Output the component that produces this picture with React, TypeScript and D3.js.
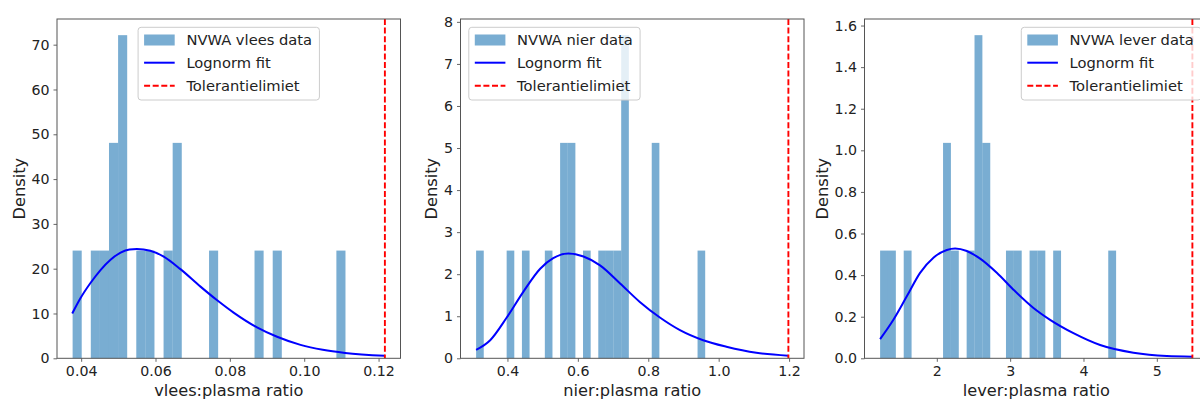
import { useEffect, useRef } from "react";
import * as d3 from "d3";

// histogram counts, 30 equal bins between the data min and max
const vleesCounts = [1, 0, 1, 1, 2, 3, 0, 1, 1, 0, 1, 2, 0, 0, 0, 1, 0, 0, 0, 0, 1, 0, 1, 0, 0, 0, 0, 0, 0, 1];
const nierCounts = [1, 0, 0, 0, 1, 0, 1, 0, 0, 1, 0, 2, 2, 0, 1, 0, 1, 1, 1, 3, 0, 0, 0, 2, 0, 0, 0, 0, 0, 1];
const leverCounts = [1, 1, 0, 1, 0, 0, 0, 0, 2, 1, 0, 1, 3, 2, 0, 0, 1, 1, 0, 1, 1, 0, 1, 0, 0, 0, 0, 0, 0, 1];

const vleesRange: [number, number] = [0.0377, 0.1111];
const nierRange: [number, number] = [0.311, 0.9617];
const leverRange: [number, number] = [1.227, 4.445];

const vleesTolerance = 0.1217;
const nierTolerance = 1.198;
const leverTolerance = 5.485;

// lognorm fit
const vleesFit: [number, number][] = [
  [0.0376, 10.0], [0.0398, 13.4], [0.0425, 16.8], [0.0452, 19.7], [0.0479, 22.0],
  [0.0506, 23.6], [0.053, 24.3], [0.055, 24.4], [0.0586, 24.0], [0.0622, 22.7],
  [0.0667, 19.9], [0.0721, 16.0], [0.0765, 13.0], [0.081, 10.2], [0.0873, 6.9],
  [0.0927, 4.8], [0.099, 3.0], [0.105, 1.9], [0.111, 1.2], [0.1217, 0.55],
];
const nierFit: [number, number][] = [
  [0.311, 0.2], [0.351, 0.43], [0.398, 0.97], [0.445, 1.58], [0.493, 2.13],
  [0.53, 2.38], [0.573, 2.49], [0.616, 2.42], [0.663, 2.21], [0.72, 1.78],
  [0.776, 1.34], [0.833, 0.97], [0.89, 0.67], [0.956, 0.43], [1.022, 0.275],
  [1.107, 0.13], [1.198, 0.062],
];
const leverFit: [number, number][] = [
  [1.227, 0.092], [1.408, 0.185], [1.591, 0.298], [1.772, 0.411], [1.954, 0.484],
  [2.136, 0.521], [2.25, 0.528], [2.409, 0.516], [2.591, 0.479], [2.818, 0.411],
  [3.045, 0.33], [3.318, 0.242], [3.545, 0.185], [3.863, 0.121], [4.227, 0.064],
  [4.681, 0.027], [5.136, 0.011], [5.485, 0.008],
];

const vleesXTicks = [0.04, 0.06, 0.08, 0.1, 0.12];
const nierXTicks = [0.4, 0.6, 0.8, 1.0, 1.2];
const leverXTicks = [2, 3, 4, 5];
const vleesYTicks = [0, 10, 20, 30, 40, 50, 60, 70];
const nierYTicks = [0, 1, 2, 3, 4, 5, 6, 7, 8];
const leverYTicks = [0, 0.2, 0.4, 0.6, 0.8, 1.0, 1.2, 1.4, 1.6];

const FONT = '"DejaVu Sans", Verdana, sans-serif';
const TOP = 19;
const BOTTOM = 358.3;
const W = 343.5;
const TICK_FS = 14.2;
const LABEL_FS = 16.2;
const LEGEND_FS = 14.7;
const INK = "#222";
const FRAME = "#555";
const DASH = "6,2.6";

const canvas = typeof document !== "undefined" ? document.createElement("canvas") : null;
function textWidth(s: string, size: number) {
  const ctx = canvas?.getContext("2d");
  if (!ctx) return s.length * size * 0.6;
  ctx.font = `${size}px ${FONT}`;
  return ctx.measureText(s).width;
}

interface PanelProps {
  left: number;
  counts: number[];
  range: [number, number];
  tolerance: number;
  fit: [number, number][];
  xTicks: number[];
  yTicks: number[];
  xFormat: string;
  yFormat: string;
  xLabel: string;
  dataLabel: string;
  legendPos: "center" | "left" | "right";
}

function Panel({ left, counts, range, tolerance, fit, xTicks, yTicks, xFormat, yFormat, xLabel, dataLabel, legendPos }: PanelProps) {
  const gx = useRef<SVGGElement>(null);
  const gy = useRef<SVGGElement>(null);

  const [lo, hi] = range;
  const pad = 0.05 * (tolerance - lo);
  const x = d3.scaleLinear([lo - pad, tolerance + pad], [left, left + W]);
  const n = d3.sum(counts);
  const bw = (hi - lo) / counts.length;
  const dens = counts.map((c) => c / (n * bw));
  const y = d3.scaleLinear([0, (d3.max(dens) ?? 1) * 1.05], [BOTTOM, TOP]);

  useEffect(() => {
    const g = d3.select(gx.current!);
    g.call(d3.axisBottom(x).tickValues(xTicks).tickFormat(d3.format(xFormat) as any).tickSize(3.5).tickPadding(4.5).tickSizeOuter(0) as any);
    g.select(".domain").remove();
    g.selectAll("line").attr("stroke", FRAME).attr("stroke-width", 0.9);
    g.selectAll("text").attr("font-size", TICK_FS).attr("font-family", FONT).attr("fill", INK);
  }, [gx, x]);

  useEffect(() => {
    const g = d3.select(gy.current!);
    g.call(d3.axisLeft(y).tickValues(yTicks).tickFormat(d3.format(yFormat) as any).tickSize(3.5).tickPadding(4).tickSizeOuter(0) as any);
    g.select(".domain").remove();
    g.selectAll("line").attr("stroke", FRAME).attr("stroke-width", 0.9);
    g.selectAll("text").attr("font-size", TICK_FS).attr("font-family", FONT).attr("fill", INK);
  }, [gy, y]);

  const line = d3
    .line<[number, number]>()
    .x((d) => x(d[0]))
    .y((d) => y(d[1]))
    .curve(d3.curveMonotoneX);

  const maxTickW = d3.max(yTicks.map((t) => textWidth(d3.format(yFormat)(t), TICK_FS))) ?? 0;
  const yLabelX = left - 7.5 - maxTickW - 12.5;

  const legendText = [dataLabel, "Lognorm fit", "Tolerantielimiet"];
  const legW = 48.3 + (d3.max(legendText.map((s) => textWidth(s, LEGEND_FS))) ?? 0) + 7.3;
  const legX = legendPos === "center" ? left + W / 2 - legW / 2 : legendPos === "left" ? left + 8.3 : left + W - 7 - legW;
  const legY = TOP + 8.3;
  const rows = [legY + 12.7, legY + 35.4, legY + 58.4];

  return (
    <g>
      {counts.map((c, i) =>
        c > 0 ? (
          <rect
            key={i}
            x={x(lo + i * bw)}
            width={x(lo + (i + 1) * bw) - x(lo + i * bw)}
            y={y(dens[i])}
            height={BOTTOM - y(dens[i])}
            fill="#1f77b4"
            fillOpacity={0.6}
          />
        ) : null
      )}
      <path d={line(fit) ?? ""} fill="none" stroke="#0000ff" strokeWidth={2} />
      <line x1={x(tolerance)} x2={x(tolerance)} y1={TOP} y2={BOTTOM} stroke="#ff0000" strokeWidth={1.9} strokeDasharray={DASH} />
      <rect x={left} y={TOP} width={W} height={BOTTOM - TOP} fill="none" stroke={FRAME} strokeWidth={1} />
      <g ref={gx} transform={`translate(0,${BOTTOM})`} />
      <g ref={gy} transform={`translate(${left},0)`} />
      <text x={left + W / 2} y={395.5} textAnchor="middle" fontSize={LABEL_FS} fontFamily={FONT} fill={INK}>
        {xLabel}
      </text>
      <text
        transform={`translate(${yLabelX},${(TOP + BOTTOM) / 2}) rotate(-90)`}
        textAnchor="middle"
        dy="0.35em"
        fontSize={LABEL_FS}
        fontFamily={FONT}
        fill={INK}
      >
        Density
      </text>
      <g>
        <rect x={legX} y={legY} width={legW} height={72.7} rx={3} fill="#fff" fillOpacity={0.8} stroke="#cccccc" strokeWidth={1} />
        <rect x={legX + 6} y={rows[0] - 5.5} width={30.6} height={11} fill="#1f77b4" fillOpacity={0.6} />
        <line x1={legX + 6} x2={legX + 36.6} y1={rows[1]} y2={rows[1]} stroke="#0000ff" strokeWidth={2} />
        <line x1={legX + 6} x2={legX + 36.6} y1={rows[2]} y2={rows[2]} stroke="#ff0000" strokeWidth={1.9} strokeDasharray={DASH} />
        {legendText.map((s, i) => (
          <text key={s} x={legX + 48.3} y={rows[i]} dy="0.35em" fontSize={LEGEND_FS} fontFamily={FONT} fill={INK}>
            {s}
          </text>
        ))}
      </g>
    </g>
  );
}

export default function App() {
  return (
    <svg width={1200} height={400} style={{ position: "absolute", left: 0, top: 0, background: "#fff" }}>
      <Panel
        left={57}
        counts={vleesCounts}
        range={vleesRange}
        tolerance={vleesTolerance}
        fit={vleesFit}
        xTicks={vleesXTicks}
        yTicks={vleesYTicks}
        xFormat=".2f"
        yFormat="d"
        xLabel="vlees:plasma ratio"
        dataLabel="NVWA vlees data"
        legendPos="center"
      />
      <Panel
        left={460.5}
        counts={nierCounts}
        range={nierRange}
        tolerance={nierTolerance}
        fit={nierFit}
        xTicks={nierXTicks}
        yTicks={nierYTicks}
        xFormat=".1f"
        yFormat="d"
        xLabel="nier:plasma ratio"
        dataLabel="NVWA nier data"
        legendPos="left"
      />
      <Panel
        left={864.5}
        counts={leverCounts}
        range={leverRange}
        tolerance={leverTolerance}
        fit={leverFit}
        xTicks={leverXTicks}
        yTicks={leverYTicks}
        xFormat="d"
        yFormat=".1f"
        xLabel="lever:plasma ratio"
        dataLabel="NVWA lever data"
        legendPos="right"
      />
    </svg>
  );
}
